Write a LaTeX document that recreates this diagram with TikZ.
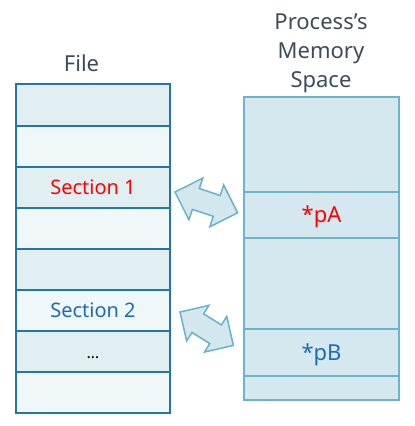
\documentclass[tikz,border=0pt]{standalone}
\usepackage{fontspec}
\setmainfont{Noto Sans}
\definecolor{fileBorder}{HTML}{2178A8}
\definecolor{rowDark}{HTML}{E1EFF2}
\definecolor{rowLight}{HTML}{EFF7F9}
\definecolor{memFill}{HTML}{D5E8EF}
\definecolor{memBorder}{HTML}{6CB4C8}
\definecolor{arrFill}{HTML}{D3E7EF}
\definecolor{arrBorder}{HTML}{6AB2C6}
\definecolor{txtRed}{HTML}{FF0000}
\definecolor{txtBlue}{HTML}{1A6BB8}
\definecolor{titleCol}{HTML}{3D4B5C}
\begin{document}
\begin{tikzpicture}[x=1pt,y=-1pt,
  frow/.style={rectangle, draw=fileBorder, line width=2.2pt, inner sep=0pt, outer sep=0pt,
    minimum width=154pt, font=\fontsize{20}{24}\selectfont, text height=14pt, text depth=0pt},
  mrow/.style={rectangle, draw=memBorder, fill=memFill, line width=1.5pt, inner sep=0pt, outer sep=0pt,
    minimum width=155pt, font=\fontsize{22}{26}\selectfont, text height=15.7pt, text depth=0pt},
  title/.style={text=titleCol, font=\fontsize{22}{29}\selectfont, align=center, inner sep=0pt},
  fatarrow/.style={draw=arrBorder, fill=arrFill, line width=1.5pt, line join=miter}]
\useasboundingbox (0,0) rectangle (415,426);
% File column
\node[frow, fill=rowDark,  minimum height=42pt] (f1) at (93,105) {};
\node[frow, fill=rowLight, minimum height=41pt] (f2) at (93,146.5) {};
\node[frow, fill=rowDark,  minimum height=41pt, text=txtRed] (f3) at (93,187.5) {Section 1};
\node[frow, fill=rowLight, minimum height=41pt] (f4) at (93,228.5) {};
\node[frow, fill=rowDark,  minimum height=41pt] (f5) at (93,269.5) {};
\node[frow, fill=rowLight, minimum height=41pt, text=txtBlue] (f6) at (93,310.5) {Section 2};
\node[frow, fill=rowDark,  minimum height=41pt, text=black, font=\fontsize{16}{20}\selectfont] (f7) at (93,351.5) {…};
\node[frow, fill=rowLight, minimum height=41pt] (f8) at (93,392.5) {};
% Memory column
\node[mrow, minimum height=95pt] (m1) at (321.5,144.5) {};
\node[mrow, minimum height=46pt, text=txtRed] (m2) at (321.5,215) {*pA};
\node[mrow, minimum height=91pt] (m3) at (321.5,283.5) {};
\node[mrow, minimum height=47pt, text=txtBlue] (m4) at (321.5,352.5) {*pB};
\node[mrow, minimum height=24pt] (m5) at (321.5,388) {};
% Titles
\node[title, anchor=base] (tfile) at (81.5,71) {File};
\node[title, anchor=base] (tmem) at (321,87) {Process’s\\Memory\\Space};
% Fat double arrows
\coordinate (a1) at (175,192);
\coordinate (a2) at (180,312);
\begin{scope}[shift={(a1)}, rotate=-18.4]
  \draw[fatarrow] (0,0) -- (22,-22) -- (22,-11) -- (44,-11) -- (44,-22) -- (66,0)
    -- (44,22) -- (44,11) -- (22,11) -- (22,22) -- cycle;
\end{scope}
\begin{scope}[shift={(a2)}, rotate=-32]
  \draw[fatarrow] (0,0) -- (21,-21) -- (21,-11) -- (42,-11) -- (42,-21) -- (63,0)
    -- (42,21) -- (42,11) -- (21,11) -- (21,21) -- cycle;
\end{scope}
\end{tikzpicture}
\end{document}
